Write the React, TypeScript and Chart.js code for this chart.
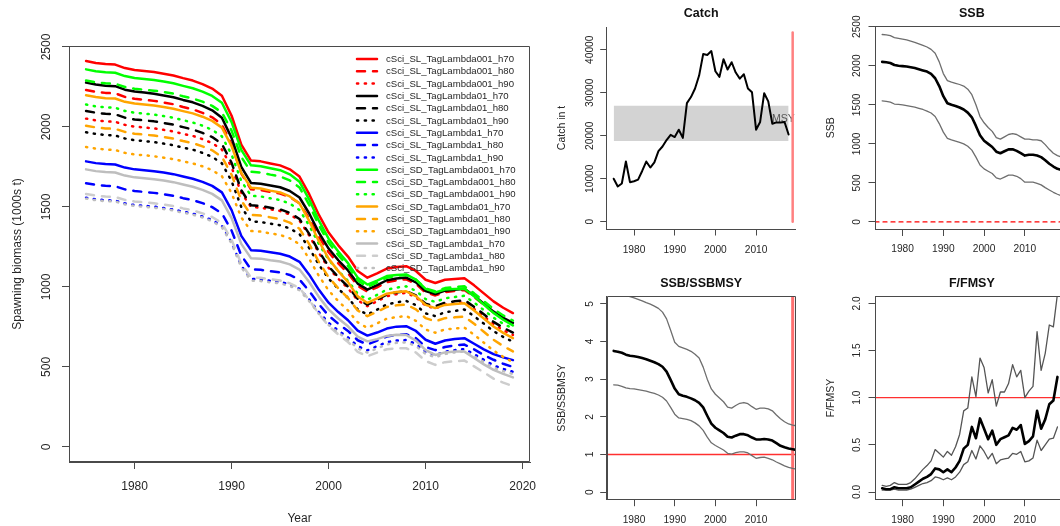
import React, { useEffect, useRef } from "react";
import { Chart, registerables } from "chart.js";

Chart.register(...registerables);

const FONT = '"Liberation Sans", Arial, Helvetica, sans-serif';
const AXIS_COLOR = "#4a4a4a";
const TEXT_COLOR = "#262626";

// ---------------- Left panel: spawning biomass by model run ----------------
const YEARS_1975_2019 = [1975,1976,1977,1978,1979,1980,1981,1982,1983,1984,1985,1986,1987,1988,1989,1990,1991,1992,1993,1994,1995,1996,1997,1998,1999,2000,2001,2002,2003,2004,2005,2006,2007,2008,2009,2010,2011,2012,2013,2014,2015,2016,2017,2018,2019];
const YEARS_1975_2018 = [1975,1976,1977,1978,1979,1980,1981,1982,1983,1984,1985,1986,1987,1988,1989,1990,1991,1992,1993,1994,1995,1996,1997,1998,1999,2000,2001,2002,2003,2004,2005,2006,2007,2008,2009,2010,2011,2012,2013,2014,2015,2016,2017,2018];
const YEARS_1975_2020 = [1975,1976,1977,1978,1979,1980,1981,1982,1983,1984,1985,1986,1987,1988,1989,1990,1991,1992,1993,1994,1995,1996,1997,1998,1999,2000,2001,2002,2003,2004,2005,2006,2007,2008,2009,2010,2011,2012,2013,2014,2015,2016,2017,2018,2019,2020];

const SERIES_NAMES = [
  "cSci_SL_TagLambda001_h70","cSci_SL_TagLambda001_h80","cSci_SL_TagLambda001_h90",
  "cSci_SL_TagLambda01_h70","cSci_SL_TagLambda01_h80","cSci_SL_TagLambda01_h90",
  "cSci_SL_TagLambda1_h70","cSci_SL_TagLambda1_h80","cSci_SL_TagLambda1_h90",
  "cSci_SD_TagLambda001_h70","cSci_SD_TagLambda001_h80","cSci_SD_TagLambda001_h90",
  "cSci_SD_TagLambda01_h70","cSci_SD_TagLambda01_h80","cSci_SD_TagLambda01_h90",
  "cSci_SD_TagLambda1_h70","cSci_SD_TagLambda1_h80","cSci_SD_TagLambda1_h90",
];
const SERIES_COLORS = [
  "#FF0000","#FF0000","#FF0000",
  "#000000","#000000","#000000",
  "#0000FF","#0000FF","#0000FF",
  "#00FF00","#00FF00","#00FF00",
  "#FFA500","#FFA500","#FFA500",
  "#BEBEBE","#CDCDCD","#BEBEBE",
];
const SERIES_LTY = ["solid","dashed","dotted","solid","dashed","dotted","solid","dashed","dotted","solid","dashed","dotted","solid","dashed","dotted","solid","dashed","dotted"];

const SL_001_H70 = [2412,2400,2393,2390,2368,2356,2350,2343,2333,2322,2305,2290,2268,2240,2195,2070,1890,1790,1785,1772,1760,1735,1690,1580,1450,1340,1260,1190,1100,1058,1085,1115,1125,1130,1100,1045,1025,1045,1050,1055,1010,960,910,870,837];
const SL_001_H80 = [2231,2220,2213,2210,2188,2176,2170,2163,2153,2142,2125,2110,2088,2060,2015,1890,1710,1610,1606,1594,1584,1562,1523,1426,1313,1217,1147,1085,1007,970,998,1030,1041,1048,1019,965,947,968,975,981,937,889,840,802,770];
const SL_001_H90 = [2052,2041,2035,2032,2013,2002,1997,1991,1982,1972,1957,1944,1924,1899,1859,1748,1589,1500,1496,1485,1475,1453,1415,1322,1212,1119,1051,992,916,880,910,942,955,963,936,883,866,889,897,904,862,815,768,730,700];
const SL_01_H70 = [2277,2265,2258,2255,2233,2221,2215,2207,2197,2186,2169,2154,2132,2104,2058,1932,1751,1650,1645,1634,1623,1600,1559,1459,1340,1240,1167,1103,1021,983,1011,1042,1053,1059,1029,975,956,977,983,989,945,895,846,807,775];
const SL_01_H80 = [2100,2089,2082,2079,2058,2047,2041,2035,2025,2015,1999,1984,1963,1937,1894,1776,1605,1510,1506,1495,1485,1463,1425,1332,1222,1129,1061,1002,926,890,920,953,966,974,947,895,879,902,910,918,876,829,782,745,715];
const SL_01_H90 = [1967,1956,1950,1947,1928,1917,1912,1905,1896,1886,1871,1858,1838,1813,1773,1661,1500,1410,1406,1396,1386,1366,1330,1243,1139,1052,988,932,860,827,858,891,904,913,886,835,818,842,850,859,817,771,724,688,658];
const SL_1_H70 = [1785,1774,1768,1765,1746,1735,1730,1723,1715,1705,1690,1676,1657,1632,1591,1480,1319,1230,1226,1217,1208,1190,1157,1077,982,902,843,792,727,696,715,740,752,755,725,670,645,665,675,680,645,610,580,560,543];
const SL_1_H80 = [1648,1638,1632,1629,1610,1600,1594,1588,1580,1570,1555,1543,1524,1499,1460,1352,1197,1110,1107,1098,1091,1075,1046,975,892,821,770,725,667,640,665,690,700,705,680,625,605,625,635,640,610,575,545,520,500];
const SL_1_H90 = [1558,1548,1542,1540,1522,1512,1507,1502,1493,1484,1471,1458,1440,1418,1381,1279,1132,1050,1047,1039,1032,1016,989,922,843,776,727,685,630,604,630,655,665,668,645,595,575,595,605,612,580,545,510,488,470];
const SD_001_H70 = [2360,2348,2342,2339,2318,2306,2300,2293,2284,2273,2257,2242,2221,2194,2151,2030,1857,1760,1755,1742,1730,1704,1658,1546,1414,1302,1221,1149,1058,1015,1040,1068,1075,1078,1046,988,966,984,987,989,942,890,838,795,760];
const SD_001_H80 = [2290,2279,2273,2270,2250,2239,2233,2227,2218,2208,2192,2178,2158,2132,2091,1977,1812,1720,1715,1702,1691,1666,1622,1513,1386,1277,1199,1130,1041,1000,1028,1058,1069,1075,1046,991,972,993,999,1004,960,911,862,822,790];
const SD_001_H90 = [2140,2129,2123,2120,2100,2089,2083,2077,2068,2058,2042,2028,2008,1982,1941,1827,1662,1570,1566,1554,1543,1521,1481,1384,1269,1171,1100,1038,958,921,951,983,996,1004,976,924,907,929,937,945,902,855,808,770,740];
const SD_01_H70 = [2198,2187,2180,2178,2157,2146,2140,2134,2125,2114,2099,2085,2064,2038,1996,1880,1713,1620,1615,1602,1591,1566,1522,1413,1286,1177,1099,1030,941,900,928,958,968,973,943,888,868,888,893,898,853,803,753,713,680];
const SD_01_H80 = [2008,1997,1991,1988,1969,1958,1952,1946,1937,1927,1912,1899,1879,1854,1813,1701,1540,1450,1446,1435,1424,1402,1364,1268,1156,1061,992,931,853,817,845,875,885,890,860,805,785,805,810,815,770,720,670,630,597];
const SD_01_H90 = [1875,1865,1859,1856,1838,1828,1823,1817,1808,1799,1785,1772,1754,1730,1692,1586,1434,1350,1346,1335,1325,1304,1267,1176,1069,978,911,853,779,744,772,802,812,818,788,734,714,735,740,746,701,652,602,563,530];
const SD_1_H70 = [1735,1724,1718,1715,1696,1685,1680,1673,1665,1655,1640,1626,1607,1582,1541,1430,1269,1180,1177,1167,1159,1141,1109,1031,938,860,803,754,690,660,674,694,702,700,665,605,575,591,596,596,556,516,482,457,435];
const SD_1_H80 = [1581,1571,1565,1563,1544,1534,1529,1523,1515,1506,1491,1479,1460,1437,1399,1295,1144,1060,1057,1048,1040,1023,993,919,831,757,703,656,595,567,590,611,617,617,590,537,513,530,536,540,504,466,427,402,380];
const SD_1_H90 = [1552,1542,1536,1534,1516,1506,1501,1495,1487,1478,1464,1452,1434,1411,1373,1271,1122,1040,1037,1029,1022,1006,979,911,831,763,714,671,616,590,616,641,651,654,631,581,561,581,591,598,566,531,496,474,456];

const LEFT_SERIES = [SL_001_H70,SL_001_H80,SL_001_H90,SL_01_H70,SL_01_H80,SL_01_H90,SL_1_H70,SL_1_H80,SL_1_H90,SD_001_H70,SD_001_H80,SD_001_H90,SD_01_H70,SD_01_H80,SD_01_H90,SD_1_H70,SD_1_H80,SD_1_H90];
const LEFT_X_TICKS = [1980, 1990, 2000, 2010, 2020];
const LEFT_Y_TICKS = [0, 500, 1000, 1500, 2000, 2500];

// ---------------- Catch ----------------
const CATCH = [10000,8200,8900,14000,9200,9400,9800,11800,14000,12600,13800,16400,17500,19000,20200,19700,21400,19500,27600,29000,31000,34000,39000,38800,39700,35000,33700,37800,35400,37100,34700,33300,34300,31000,30100,21400,23200,29900,28000,22800,23100,23100,23200,20300];
const MSY_RANGE_YEARS = [1975, 2018];
const MSY_LOW = 18770;
const MSY_HIGH = 26980;
const MSY_LABEL = "MSY";
const MSY_LABEL_YEAR = 2016.7;
const MSY_LABEL_VALUE = 23800;
const END_YEAR = 2019;
const CATCH_END_LINE = [0, 44000];
const CATCH_Y_TICKS = [0, 10000, 20000, 30000, 40000];

// ---------------- SSB ----------------
const SSB_MID = [2050,2045,2035,2010,2000,1995,1990,1980,1970,1955,1940,1925,1895,1840,1740,1610,1520,1500,1485,1465,1440,1400,1340,1230,1110,1040,1000,960,900,880,905,930,930,910,880,850,860,860,850,830,790,745,710,680,665];
const SSB_UP = [2400,2395,2385,2360,2350,2340,2330,2315,2300,2280,2260,2240,2210,2160,2050,1900,1810,1790,1775,1760,1740,1700,1630,1500,1350,1270,1210,1160,1080,1060,1090,1120,1130,1120,1090,1060,1060,1050,1050,1040,990,930,880,850,830];
const SSB_LOW = [1550,1545,1535,1510,1505,1500,1490,1480,1470,1455,1440,1420,1395,1350,1260,1150,1070,1050,1035,1020,1000,970,920,830,730,680,650,620,565,550,575,600,600,585,555,510,510,510,495,475,440,410,380,355,335];
const SSB_Y_TICKS = [0, 500, 1000, 1500, 2000, 2500];
const SSB_REF = 0;

// ---------------- SSB/SSBMSY ----------------
const REL_SSB_MID = [3.75,3.73,3.70,3.65,3.62,3.61,3.59,3.56,3.53,3.49,3.45,3.40,3.33,3.20,2.98,2.75,2.60,2.56,2.53,2.49,2.44,2.37,2.25,2.03,1.82,1.71,1.64,1.57,1.47,1.45,1.50,1.54,1.54,1.51,1.45,1.40,1.40,1.41,1.40,1.37,1.30,1.23,1.19,1.16,1.14,1.12];
const REL_SSB_UP = [5.45,5.40,5.33,5.22,5.19,5.16,5.12,5.08,5.03,4.99,4.94,4.88,4.78,4.60,4.30,3.98,3.87,3.83,3.79,3.74,3.66,3.56,3.32,3.00,2.74,2.60,2.50,2.40,2.26,2.23,2.30,2.36,2.38,2.35,2.27,2.20,2.23,2.23,2.21,2.16,2.05,1.95,1.87,1.81,1.78,1.76];
const REL_SSB_LOW = [2.85,2.84,2.81,2.77,2.75,2.74,2.72,2.70,2.68,2.65,2.62,2.58,2.52,2.42,2.25,2.07,1.97,1.95,1.93,1.90,1.84,1.76,1.64,1.46,1.31,1.24,1.18,1.12,1.03,1.01,1.05,1.07,1.07,1.04,0.97,0.90,0.92,0.93,0.90,0.86,0.80,0.75,0.70,0.66,0.63,0.61];
const REL_SSB_Y_TICKS = [0, 1, 2, 3, 4, 5];
const REL_REF = 1;

// ---------------- F/FMSY ----------------
const REL_F_MID = [0.04,0.03,0.03,0.05,0.04,0.04,0.04,0.05,0.08,0.11,0.14,0.16,0.19,0.25,0.24,0.21,0.24,0.21,0.26,0.33,0.46,0.50,0.69,0.57,0.78,0.67,0.56,0.65,0.50,0.56,0.58,0.60,0.68,0.66,0.71,0.51,0.54,0.59,0.86,0.67,0.77,0.93,0.97,1.22];
const REL_F_UP = [0.07,0.06,0.07,0.10,0.08,0.08,0.08,0.10,0.14,0.19,0.24,0.28,0.33,0.45,0.41,0.37,0.43,0.39,0.48,0.61,0.86,0.89,1.22,1.01,1.42,1.32,1.05,1.19,0.91,1.06,1.06,1.15,1.35,1.22,1.29,1.00,1.07,1.12,1.70,1.29,1.47,1.77,1.75,2.10];
const REL_F_LOW = [0.02,0.02,0.02,0.03,0.02,0.02,0.02,0.03,0.05,0.07,0.09,0.10,0.12,0.16,0.15,0.13,0.15,0.13,0.16,0.21,0.29,0.32,0.44,0.35,0.49,0.43,0.35,0.41,0.30,0.34,0.35,0.36,0.41,0.40,0.43,0.32,0.33,0.36,0.55,0.44,0.50,0.56,0.57,0.69];
const REL_F_Y_TICKS = [0, 0.5, 1, 1.5, 2];
const REL_F_Y_LABELS = ["0.0", "0.5", "1.0", "1.5", "2.0"];

const SMALL_X_TICKS = [1980, 1990, 2000, 2010];

// ---------------- helpers ----------------
const DASHES: Record<string, number[]> = { solid: [], dashed: [8, 8], dotted: [1.2, 6.6] };

function toPoints(xs: number[], ys: number[]) {
  return ys.map((y, i) => ({ x: xs[i], y }));
}

function framePlugin(sides: string) {
  return {
    id: "frame_" + sides,
    afterDatasetsDraw(chart: any) {
      const { ctx, chartArea: a } = chart;
      const l = Math.round(a.left) + 0.5;
      const r = Math.round(a.right) - 0.5;
      const t = Math.round(a.top) + 0.5;
      const b = Math.round(a.bottom) - 0.5;
      ctx.save();
      ctx.strokeStyle = AXIS_COLOR;
      ctx.lineWidth = 1;
      ctx.beginPath();
      if (sides.includes("t")) { ctx.moveTo(l, t); ctx.lineTo(r, t); }
      if (sides.includes("r")) { ctx.moveTo(r, t); ctx.lineTo(r, b); }
      if (sides.includes("b")) { ctx.moveTo(l, b); ctx.lineTo(r, b); }
      if (sides.includes("l")) { ctx.moveTo(l, t); ctx.lineTo(l, b); }
      ctx.stroke();
      ctx.restore();
    },
  };
}

const LEGEND_TOP = 59;
const LEGEND_ROW = 12.3;
const LEGEND_X0 = 357;
const LEGEND_X1 = 377;
const LEGEND_TEXT_X = 386;

const legendPlugin = {
  id: "rLegend",
  afterDatasetsDraw(chart: any) {
    const ctx = chart.ctx;
    ctx.save();
    ctx.font = `9.6px ${FONT}`;
    ctx.textBaseline = "middle";
    ctx.textAlign = "left";
    chart.data.datasets.forEach((ds: any, i: number) => {
      const y = LEGEND_TOP + i * LEGEND_ROW;
      ctx.strokeStyle = ds.borderColor;
      ctx.lineWidth = 2.5;
      ctx.lineCap = "round";
      ctx.setLineDash(ds.borderDash || []);
      ctx.beginPath();
      ctx.moveTo(LEGEND_X0, y);
      ctx.lineTo(LEGEND_X1, y);
      ctx.stroke();
      ctx.setLineDash([]);
      ctx.fillStyle = TEXT_COLOR;
      ctx.fillText(ds.label, LEGEND_TEXT_X, y + 0.5);
    });
    ctx.restore();
  },
};

function fixedTicks(values: number[]) {
  return (scale: any) => {
    scale.ticks = values.map((v) => ({ value: v }));
  };
}

const baseOptions = {
  responsive: false,
  animation: false as const,
  devicePixelRatio: 1,
  events: [] as any[],
  elements: {
    point: { radius: 0, hoverRadius: 0, hitRadius: 0 },
    line: { tension: 0, borderJoinStyle: "round" as const, borderCapStyle: "round" as const },
  },
};

function leftConfig(): any {
  const datasets = SERIES_NAMES.map((name, i) => ({
    label: name,
    data: toPoints(YEARS_1975_2019, LEFT_SERIES[i]),
    borderColor: SERIES_COLORS[i],
    backgroundColor: SERIES_COLORS[i],
    borderWidth: 2.5,
    borderDash: DASHES[SERIES_LTY[i]],
    borderCapStyle: "round",
    borderJoinStyle: "round",
    pointRadius: 0,
    fill: false,
    order: SERIES_NAMES.length - 1 - i,
  }));
  return {
    type: "line",
    data: { datasets },
    options: {
      ...baseOptions,
      layout: { padding: { left: 0, top: 46, right: 30, bottom: 0 } },
      plugins: { legend: { display: false }, tooltip: { enabled: false }, title: { display: false } },
      scales: {
        x: {
          type: "linear",
          min: 1973.24,
          max: 2020.76,
          afterBuildTicks: fixedTicks(LEFT_X_TICKS),
          afterFit: (s: any) => { s.height = 64; },
          grid: { drawOnChartArea: false, drawTicks: true, tickLength: 7, color: AXIS_COLOR },
          border: { display: true, color: AXIS_COLOR, width: 1 },
          ticks: { autoSkip: false, minRotation: 0, maxRotation: 0, padding: 10.8, color: TEXT_COLOR, font: { family: FONT, size: 12 }, callback: (v: any) => String(v) },
          title: { display: true, text: "Year", color: TEXT_COLOR, font: { family: FONT, size: 12 }, padding: { top: 0, bottom: 0.5 } },
        },
        y: {
          type: "linear",
          min: -94,
          max: 2506,
          afterBuildTicks: fixedTicks(LEFT_Y_TICKS),
          afterFit: (s: any) => { s.width = 69; },
          grid: { drawOnChartArea: false, drawTicks: true, tickLength: 7, color: AXIS_COLOR },
          border: { display: true, color: AXIS_COLOR, width: 1 },
          ticks: { autoSkip: false, minRotation: 90, maxRotation: 90, crossAlign: "center", padding: 2.2, color: TEXT_COLOR, font: { family: FONT, size: 12 }, callback: (v: any) => String(v) },
          title: { display: true, text: "Spawning biomass (1000s t)", color: TEXT_COLOR, font: { family: FONT, size: 12 }, padding: { top: 10, bottom: 0 } },
        },
      },
    },
    plugins: [framePlugin("trbl"), legendPlugin],
  };
}

interface PanelSpec {
  title: string;
  yTitle: string;
  datasets: any[];
  xMin: number; xMax: number;
  yMin: number; yMax: number;
  yTicks: number[]; yLabels?: string[];
  yWidth: number; yTickPad: number; yTitlePad: number;
  xAxisHeight: number; xTickPad: number;
  padRight: number;
  titleTop: number; titleBottom: number;
  plugins: any[];
}

function panelConfig(p: PanelSpec): any {
  return {
    type: "line",
    data: { datasets: p.datasets },
    options: {
      ...baseOptions,
      layout: { padding: { left: 0, top: 0, right: p.padRight, bottom: 0 } },
      plugins: {
        legend: { display: false },
        tooltip: { enabled: false },
        title: {
          display: true, text: p.title, fullSize: false, position: "top", align: "center",
          color: "#111", font: { family: FONT, size: 12.5, weight: "bold" },
          padding: { top: p.titleTop, bottom: p.titleBottom },
        },
      },
      scales: {
        x: {
          type: "linear", min: p.xMin, max: p.xMax,
          afterBuildTicks: fixedTicks(SMALL_X_TICKS),
          afterFit: (s: any) => { s.height = p.xAxisHeight; },
          grid: { drawOnChartArea: false, drawTicks: true, tickLength: 6.5, color: AXIS_COLOR },
          border: { display: true, color: AXIS_COLOR, width: 1 },
          ticks: { autoSkip: false, minRotation: 0, maxRotation: 0, padding: p.xTickPad, color: TEXT_COLOR, font: { family: FONT, size: 10.2 }, callback: (v: any) => String(v) },
        },
        y: {
          type: "linear", min: p.yMin, max: p.yMax,
          afterBuildTicks: fixedTicks(p.yTicks),
          afterFit: (s: any) => { s.width = p.yWidth; },
          grid: { drawOnChartArea: false, drawTicks: true, tickLength: 6.5, color: AXIS_COLOR },
          border: { display: true, color: AXIS_COLOR, width: 1 },
          ticks: {
            autoSkip: false, minRotation: 90, maxRotation: 90, crossAlign: "center", padding: p.yTickPad,
            color: TEXT_COLOR, font: { family: FONT, size: 10.2 },
            callback: (v: any) => {
              const idx = p.yTicks.indexOf(Number(v));
              return p.yLabels && idx >= 0 ? p.yLabels[idx] : String(v);
            },
          },
          title: { display: true, text: p.yTitle, color: TEXT_COLOR, font: { family: FONT, size: 10.5 }, padding: { top: p.yTitlePad, bottom: 0 } },
        },
      },
    },
    plugins: p.plugins,
  };
}

function line(data: any[], color: string, width: number, order: number, dash: number[] = []) {
  return { data, borderColor: color, backgroundColor: color, borderWidth: width, borderDash: dash, pointRadius: 0, fill: false, order };
}

function catchConfig(): any {
  const xMin = 1973.28, xMax = 2019.72, yMin = -1700, yMax = 45300;
  const bandLow = { ...line(MSY_RANGE_YEARS.map((x) => ({ x, y: MSY_LOW })), "rgba(0,0,0,0)", 0, 4), label: "msyLow" };
  const bandHigh = { ...line(MSY_RANGE_YEARS.map((x) => ({ x, y: MSY_HIGH })), "rgba(0,0,0,0)", 0, 3), label: "msyHigh", fill: "-1", backgroundColor: "#D3D3D3" };
  const endLine = line(CATCH_END_LINE.map((y) => ({ x: END_YEAR, y })), "#FF8080", 2.5, 1);
  const catchLine = line(toPoints(YEARS_1975_2018, CATCH), "#000000", 2, 0);
  const msyText = {
    id: "msyText",
    afterDatasetDraw(chart: any, args: any) {
      if (args.index !== 1) return;
      const { ctx, scales } = chart;
      ctx.save();
      ctx.font = `10.5px ${FONT}`;
      ctx.fillStyle = "#555";
      ctx.textAlign = "center";
      ctx.textBaseline = "middle";
      ctx.fillText(MSY_LABEL, scales.x.getPixelForValue(MSY_LABEL_YEAR), scales.y.getPixelForValue(MSY_LABEL_VALUE));
      ctx.restore();
    },
  };
  return panelConfig({
    title: "Catch", yTitle: "Catch in t",
    datasets: [bandLow, bandHigh, endLine, catchLine],
    xMin, xMax, yMin, yMax,
    yTicks: CATCH_Y_TICKS,
    yWidth: 61.7, yTickPad: -4, yTitlePad: 10.4,
    xAxisHeight: 34, xTickPad: 8.2,
    padRight: 4.4,
    titleTop: 6.5, titleBottom: 5.5,
    plugins: [msyText],
  });
}

function ssbConfig(): any {
  const xMin = 1973.24, xMax = 2020.76, yMin = -96.4, yMax = 2506.4;
  return panelConfig({
    title: "SSB", yTitle: "SSB",
    datasets: [
      line([{ x: xMin, y: SSB_REF }, { x: xMax, y: SSB_REF }], "#FF0000", 1.2, 3, [4, 4]),
      line(toPoints(YEARS_1975_2019, SSB_UP), "#6e6e6e", 1.3, 2),
      line(toPoints(YEARS_1975_2019, SSB_LOW), "#6e6e6e", 1.3, 1),
      line(toPoints(YEARS_1975_2019, SSB_MID), "#000000", 2.6, 0),
    ],
    xMin, xMax, yMin, yMax,
    yTicks: SSB_Y_TICKS,
    yWidth: 75, yTickPad: -0.1, yTitlePad: 24.4,
    xAxisHeight: 33.5, xTickPad: 7.5,
    padRight: 1.3,
    titleTop: 6.5, titleBottom: 4.7,
    plugins: [framePlugin("trbl")],
  });
}

function relSsbConfig(): any {
  const xMin = 1973.28, xMax = 2019.72, yMin = -0.2, yMax = 5.2;
  return panelConfig({
    title: "SSB/SSBMSY", yTitle: "SSB/SSBMSY",
    datasets: [
      line([{ x: xMin, y: REL_REF }, { x: xMax, y: REL_REF }], "#FF3030", 1.4, 4),
      line([{ x: END_YEAR, y: yMin }, { x: END_YEAR, y: yMax }], "#FF7070", 3, 3),
      line(toPoints(YEARS_1975_2020, REL_SSB_UP), "#6e6e6e", 1.3, 2),
      line(toPoints(YEARS_1975_2020, REL_SSB_LOW), "#6e6e6e", 1.3, 1),
      line(toPoints(YEARS_1975_2020, REL_SSB_MID), "#000000", 2.6, 0),
    ],
    xMin, xMax, yMin, yMax,
    yTicks: REL_SSB_Y_TICKS,
    yWidth: 61.7, yTickPad: 7.4, yTitlePad: 10.4,
    xAxisHeight: 26.3, xTickPad: 7.4,
    padRight: 4.4,
    titleTop: 13.2, titleBottom: 5.1,
    plugins: [framePlugin("trbl")],
  });
}

function relFConfig(): any {
  const xMin = 1973.24, xMax = 2020.76, yMin = -0.0815, yMax = 2.0745;
  return panelConfig({
    title: "F/FMSY", yTitle: "F/FMSY",
    datasets: [
      line([{ x: xMin, y: REL_REF }, { x: xMax, y: REL_REF }], "#FF3030", 1.4, 3),
      line(toPoints(YEARS_1975_2018, REL_F_UP), "#555555", 1.3, 2),
      line(toPoints(YEARS_1975_2018, REL_F_LOW), "#555555", 1.3, 1),
      line(toPoints(YEARS_1975_2018, REL_F_MID), "#000000", 2.6, 0),
    ],
    xMin, xMax, yMin, yMax,
    yTicks: REL_F_Y_TICKS, yLabels: REL_F_Y_LABELS,
    yWidth: 75, yTickPad: 4.7, yTitlePad: 24.4,
    xAxisHeight: 26.3, xTickPad: 7.4,
    padRight: 1.3,
    titleTop: 13.2, titleBottom: 5.1,
    plugins: [framePlugin("trbl")],
  });
}

export default function App() {
  const leftRef = useRef<HTMLCanvasElement>(null);
  const catchRef = useRef<HTMLCanvasElement>(null);
  const ssbRef = useRef<HTMLCanvasElement>(null);
  const relSsbRef = useRef<HTMLCanvasElement>(null);
  const relFRef = useRef<HTMLCanvasElement>(null);

  useEffect(() => {
    const charts = [
      new Chart(leftRef.current as HTMLCanvasElement, leftConfig()),
      new Chart(catchRef.current as HTMLCanvasElement, catchConfig()),
      new Chart(ssbRef.current as HTMLCanvasElement, ssbConfig()),
      new Chart(relSsbRef.current as HTMLCanvasElement, relSsbConfig()),
      new Chart(relFRef.current as HTMLCanvasElement, relFConfig()),
    ];
    return () => charts.forEach((c) => c.destroy());
  }, []);

  const abs = (left: number, top: number): React.CSSProperties => ({ position: "absolute", left, top });

  return (
    <div style={{ position: "absolute", left: 0, top: 0, width: 1060, height: 526, overflow: "hidden", background: "#ffffff" }}>
      <canvas ref={leftRef} width={560} height={526} style={abs(0, 0)} />
      <canvas ref={catchRef} width={255} height={263} style={abs(545, 0)} />
      <canvas ref={ssbRef} width={270} height={263} style={abs(800, 0)} />
      <canvas ref={relSsbRef} width={255} height={263} style={abs(545, 263)} />
      <canvas ref={relFRef} width={270} height={263} style={abs(800, 263)} />
    </div>
  );
}
